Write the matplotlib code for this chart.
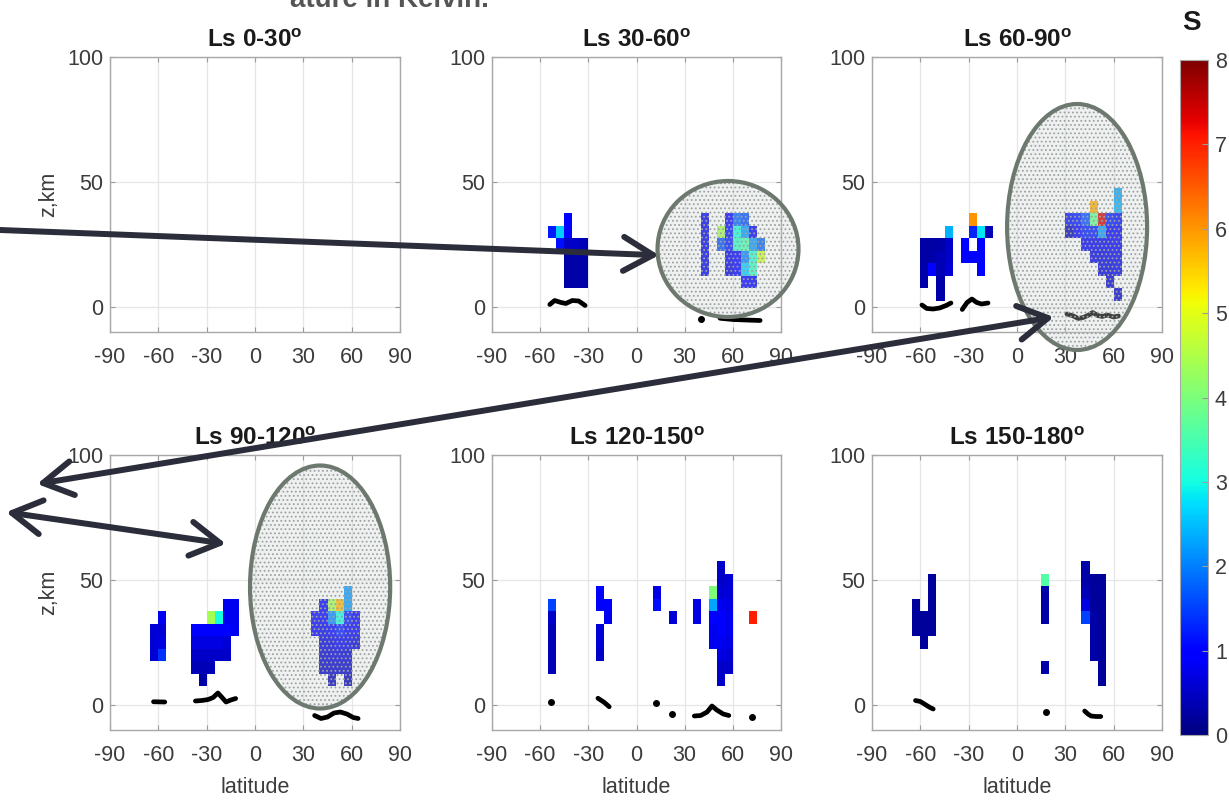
import numpy as np
import matplotlib
matplotlib.use("Agg")
import matplotlib.pyplot as plt
from matplotlib.patches import Ellipse

plt.rcParams["font.family"] = ["Liberation Sans", "DejaVu Sans"]
plt.rcParams["mathtext.fontset"] = "custom"
plt.rcParams["mathtext.rm"] = "Liberation Sans"
plt.rcParams["mathtext.bf"] = "Liberation Sans:bold"
plt.rcParams["axes.unicode_minus"] = False
plt.rcParams["hatch.linewidth"] = 0.8
plt.rcParams["hatch.color"] = "#9da2a2"

# ---------------------------------------------------------------- data
titles = ["Ls 0-30", "Ls 30-60", "Ls 60-90", "Ls 90-120", "Ls 120-150", "Ls 150-180"]
lat_ticks = [-90, -60, -30, 0, 30, 60, 90]
z_ticks = [0, 50, 100]
cbar_ticks = [0, 1, 2, 3, 4, 5, 6, 7, 8]

# S on a 5 deg x 5 km grid: (altitude km, first latitude bin edge, values per bin)
s_ls000 = []
s_ls030 = [
    (35, -45, [1.0]),
    (30, -55, [1.2, 2.6, 1.0]),
    (25, -50, [1.1, 0.5, 0.5, 0.4]),
    (20, -45, [0.3, 0.3, 0.3]),
    (15, -45, [0.3, 0.3, 0.3]),
    (10, -45, [0.3, 0.3, 0.3]),
    (35, 40, [0.8, None, None, 1.0, 1.8, 1.6]),
    (30, 40, [0.8, None, 4.4, 1.1, 3.0, 2.2, 0.9]),
    (25, 40, [0.8, None, 1.6, 1.2, 3.3, 3.5, 2.2, 1.8]),
    (20, 40, [0.8, None, None, 0.8, 1.0, 2.0, 3.2, 4.8]),
    (15, 40, [0.8, None, None, 0.7, 0.9, 2.6, 3.3]),
    (10, 65, [1.0, 1.0]),
]
s_ls060 = [
    (30, -45, [2.4]),
    (25, -60, [0.25, 0.25, 0.3, 0.5]),
    (20, -60, [0.25, 0.3, 0.4, 0.5]),
    (15, -60, [0.3, 1.0, 0.4, 0.6]),
    (10, -60, [0.3, None, 0.3]),
    (5, -50, [0.3]),
    (35, -30, [6.0]),
    (30, -30, [1.3, 2.8, 0.4]),
    (25, -35, [1.0, None, 1.0]),
    (20, -35, [1.0, 1.0, 1.0]),
    (15, -25, [1.0]),
    (45, 60, [2.3]),
    (40, 45, [5.8, None, None, 2.4]),
    (35, 30, [1.1, 1.2, 1.6, 3.8, 7.4, 1.2, 1.1]),
    (30, 30, [0.4, 1.0, 1.2, 1.2, 2.2, 1.0, 1.0]),
    (25, 40, [0.8, 0.8, 0.8, 0.9, 0.9]),
    (20, 45, [0.7, 0.7, 0.8, 0.8]),
    (15, 50, [0.7, 0.7, 0.8]),
    (10, 55, [0.6]),
    (5, 60, [0.6]),
]
s_ls090 = [
    (35, -60, [0.8]),
    (30, -65, [0.6, 0.6]),
    (25, -65, [0.6, 0.7]),
    (20, -65, [0.6, 1.4]),
    (40, -20, [0.8, 0.8]),
    (35, -30, [4.4, 3.0, 0.8, 0.8]),
    (30, -40, [0.9, 0.9, 0.9, 0.9, 0.9, 0.8]),
    (25, -40, [0.7, 0.7, 0.7, 0.7, 0.6]),
    (20, -40, [0.5, 0.5, 0.5, 0.5, 0.5]),
    (15, -40, [0.4, 0.4, 0.4]),
    (10, -35, [0.3]),
    (45, 55, [2.2]),
    (40, 40, [1.0, 4.4, 5.7, 2.2]),
    (35, 35, [1.0, 1.0, 2.0, 3.0, 1.2, 1.0]),
    (30, 35, [1.0, 0.8, 0.9, 1.2, 0.9, 0.9]),
    (25, 40, [0.7, 0.7, 0.8, 0.8, 0.7]),
    (20, 40, [0.6, 0.6, 0.6, 0.6]),
    (15, 40, [0.5, 0.5, 0.5, 0.5]),
    (10, 45, [0.4, None, 0.4]),
]
s_ls120 = [
    (55, 50, [0.5]),
    (50, 50, [0.5, 0.6]),
    (45, -25, [1.0]), (45, 10, [0.7]), (45, 45, [4.0, 0.6, 0.6]),
    (40, -55, [1.5]), (40, -25, [0.9, 0.9]), (40, 10, [1.1]),
    (40, 35, [0.7, None, 2.3, 0.8, 0.7]),
    (35, -55, [0.5]), (35, -20, [0.8]), (35, 20, [0.6]),
    (35, 35, [0.7, None, 1.0, 0.9, 0.8, None, None, 7.0]),
    (30, -55, [0.4]), (30, -25, [0.6]), (30, 45, [0.8, 0.9, 0.8]),
    (25, -55, [0.4]), (25, -25, [0.6]), (25, 45, [0.8, 0.8, 0.7]),
    (20, -55, [0.4]), (20, -25, [0.5]), (20, 50, [0.7, 0.6]),
    (15, -55, [0.4]), (15, 50, [0.5, 0.5]),
    (10, 50, [0.5]),
]
s_ls150 = [
    (55, 40, [0.3]),
    (50, -55, [0.2]), (50, 15, [3.6]), (50, 40, [0.3, 0.2, 0.2]),
    (45, -55, [0.2]), (45, 15, [0.3]), (45, 40, [0.4, 0.2, 0.2]),
    (40, -65, [0.2, None, 0.2]), (40, 15, [0.3]), (40, 40, [0.7, 0.2, 0.2]),
    (35, -65, [0.2, 0.2, 0.2]), (35, 15, [0.3]), (35, 40, [1.5, 0.3, 0.2]),
    (30, -65, [0.2, 0.2, 0.2]), (30, 45, [0.3, 0.2]),
    (25, -60, [0.2]), (25, 45, [0.3, 0.2]),
    (20, 45, [0.3, 0.2]),
    (15, 15, [0.3]), (15, 50, [0.2]),
    (10, 50, [0.2]),
]
s_panels = [s_ls000, s_ls030, s_ls060, s_ls090, s_ls120, s_ls150]

# surface height traces (latitude, km) and isolated surface points
topo_ls000 = []
topo_ls030 = [
    ([-54, -51, -47, -44, -40, -36, -32], [1.0, 2.6, 1.8, 1.4, 2.6, 2.4, 0.6]),
    ([52, 60, 68, 77], [-4.5, -5.0, -5.2, -5.4]),
]
topo_ls060 = [
    ([-59, -56, -52, -48, -44, -41], [0.8, -0.6, -0.8, -0.4, 0.6, 1.6]),
    ([-34, -31, -28, -25, -22, -18], [-1.0, 1.8, 3.2, 1.8, 1.2, 1.6]),
    ([31, 35, 38, 41, 44, 47, 50, 53, 56, 60, 63],
     [-2.8, -3.6, -4.6, -4.2, -3.4, -2.2, -3.4, -3.8, -3.2, -4.0, -3.6]),
]
topo_ls090 = [
    ([-63, -56], [1.3, 1.2]),
    ([-37, -33, -29, -26, -23, -21, -18, -15, -12],
     [1.6, 1.8, 2.2, 3.0, 4.8, 3.4, 1.2, 2.0, 2.6]),
    ([37, 41, 45, 49, 53, 57, 61, 64], [-4.2, -5.4, -4.8, -3.2, -2.8, -3.6, -5.0, -5.4]),
]
topo_ls120 = [
    ([-24, -20, -17], [2.7, 1.0, -0.7]),
    ([36, 40, 44, 47, 50, 54, 57.5], [-4.4, -4.2, -2.8, -0.4, -2.0, -3.6, -4.2]),
]
topo_ls150 = [
    ([-63, -60, -57, -54, -52], [1.8, 1.4, 0.2, -1.0, -1.6]),
    ([42, 44, 46, 49, 52], [-2.4, -3.6, -4.4, -4.6, -4.6]),
]
topo_panels = [topo_ls000, topo_ls030, topo_ls060, topo_ls090, topo_ls120, topo_ls150]

dots_panels = [
    ([], []),
    ([40], [-4.8]),
    ([], []),
    ([], []),
    ([-53, 12, 22, 72], [1.3, 0.9, -3.6, -4.9]),
    ([18], [-2.9]),
]

# highlighted regions: (panel, centre latitude, centre km, width deg, height km)
highlights = [
    (1, 57.0, 23.2, 87.8, 54.4),
    (2, 37.3, 32.0, 86.9, 98.4),
    (3, 40.4, 47.2, 87.0, 97.2),
]

# ---------------------------------------------------------------- figure
W, H = 1229, 806
fig = plt.figure(figsize=(W / 100, H / 100), dpi=100)

lat_edges = np.arange(-90, 91, 5)
z_edges = np.arange(-2.5, 65, 5)


def build_grid(rows):
    grid = np.full((len(z_edges) - 1, len(lat_edges) - 1), np.nan)
    for z, lat0, vals in rows:
        r = int(round(z / 5))
        c0 = int(round((lat0 + 90) / 5))
        for i, v in enumerate(vals):
            if v is not None:
                grid[r, c0 + i] = v
    return np.ma.masked_invalid(grid)


def px_axes(x0, y0, x1, y1):
    return fig.add_axes([x0 / W, 1 - y1 / H, (x1 - x0) / W, (y1 - y0) / H])


col_px = [(110, 400), (492, 781), (872, 1162)]
row_px = [(57, 332), (455, 730)]

tick_col = "#3c3c3c"
axes = []
mesh = None
for k in range(6):
    r, c = divmod(k, 3)
    ax = px_axes(col_px[c][0], row_px[r][0], col_px[c][1], row_px[r][1])
    axes.append(ax)
    mesh = ax.pcolormesh(lat_edges, z_edges, build_grid(s_panels[k]), cmap="jet",
                         vmin=0, vmax=8, shading="flat", zorder=2)
    for lats, zs in topo_panels[k]:
        ax.plot(lats, zs, color="black", lw=3.4, solid_capstyle="round",
                solid_joinstyle="round", zorder=3)
    dl, dz = dots_panels[k]
    if dl:
        ax.plot(dl, dz, "o", color="black", ms=4, zorder=3)
    ax.set_xlim(-90, 90)
    ax.set_ylim(-10, 100)
    ax.set_xticks(lat_ticks)
    ax.set_yticks(z_ticks)
    ax.grid(True, color="#e6e6e6", lw=0.9)
    ax.set_axisbelow(True)
    for sp in ax.spines.values():
        sp.set_color("#a8a8a8")
        sp.set_linewidth(1.0)
    ax.tick_params(direction="in", length=3.5, width=0.8, color="#9a9a9a",
                   labelsize=15.5, labelcolor=tick_col, top=True, right=True)
    ax.tick_params(axis="x", pad=11)
    ax.tick_params(axis="y", pad=5)
    ax.set_title(titles[k] + r"$^{\mathbf{o}}$", fontsize=17.5, fontweight="bold",
                 color="#1a1a1a", pad=7)
    if c == 0:
        ax.set_ylabel("z,km", fontsize=15.5, color=tick_col)
        ax.yaxis.set_label_coords(-0.175, 0.5)
    if r == 1:
        ax.set_xlabel("latitude", fontsize=15.5, color=tick_col)
        ax.xaxis.set_label_coords(0.5, -0.17)

# colour bar
cax = px_axes(1180, 60, 1208, 735)
cb = fig.colorbar(mesh, cax=cax, ticks=cbar_ticks)
cb.outline.set_edgecolor("#a8a8a8")
cb.outline.set_linewidth(0.8)
cax.tick_params(direction="in", length=4, width=0.8, color="#9a9a9a",
                labelsize=15.5, labelcolor=tick_col, pad=5)
fig.text(1191 / W, 1 - 23 / H, "S", fontsize=20, fontweight="bold",
         ha="center", va="center", color="#1a1a1a")

# heading line running off the top edge
fig.text(290 / W, 1 - 7 / H, "ature in Kelvin.", fontsize=20, fontweight="bold",
         color="#555555", ha="left", va="baseline")

# highlighted regions
for k, lat_c, z_c, w_deg, h_km in highlights:
    ax = axes[k]
    ax.add_patch(Ellipse((lat_c, z_c), w_deg, h_km, facecolor=(0.80, 0.82, 0.82, 0.3),
                         edgecolor="#9da2a2", hatch="....", lw=0, clip_on=False, zorder=6))
    ax.add_patch(Ellipse((lat_c, z_c), w_deg, h_km, facecolor="none",
                         edgecolor="#6d786f", lw=3.0, clip_on=False, zorder=7))

# connector arrows drawn on a full-figure layer in pixel units
over = fig.add_axes([0, 0, 1, 1], zorder=20)
over.set_xlim(0, W)
over.set_ylim(H, 0)
over.axis("off")
over.patch.set_visible(False)

arrow_color = "#2b2d3a"
connectors = [
    ((0, 230), (653, 255), False, True),
    ((43, 483), (1048, 318), True, True),
    ((12, 513), (220, 543), True, True),
]


def chevron(tip, tail, arm=34, half=30):
    tip = np.asarray(tip, float)
    d = np.asarray(tail, float) - tip
    d /= np.hypot(*d)
    pts = []
    for s in (1, -1):
        a = np.deg2rad(s * half)
        rot = np.array([d[0] * np.cos(a) - d[1] * np.sin(a),
                        d[0] * np.sin(a) + d[1] * np.cos(a)])
        pts.append(tip + arm * rot)
    xs = [pts[0][0], tip[0], pts[1][0]]
    ys = [pts[0][1], tip[1], pts[1][1]]
    over.plot(xs, ys, color=arrow_color, lw=4.3, solid_capstyle="round",
              solid_joinstyle="round")


for p0, p1, head0, head1 in connectors:
    over.plot([p0[0], p1[0]], [p0[1], p1[1]], color=arrow_color, lw=4.3,
              solid_capstyle="round")
    if head0:
        chevron(p0, p1)
    if head1:
        chevron(p1, p0)

fig.savefig("out.png", dpi=100)
